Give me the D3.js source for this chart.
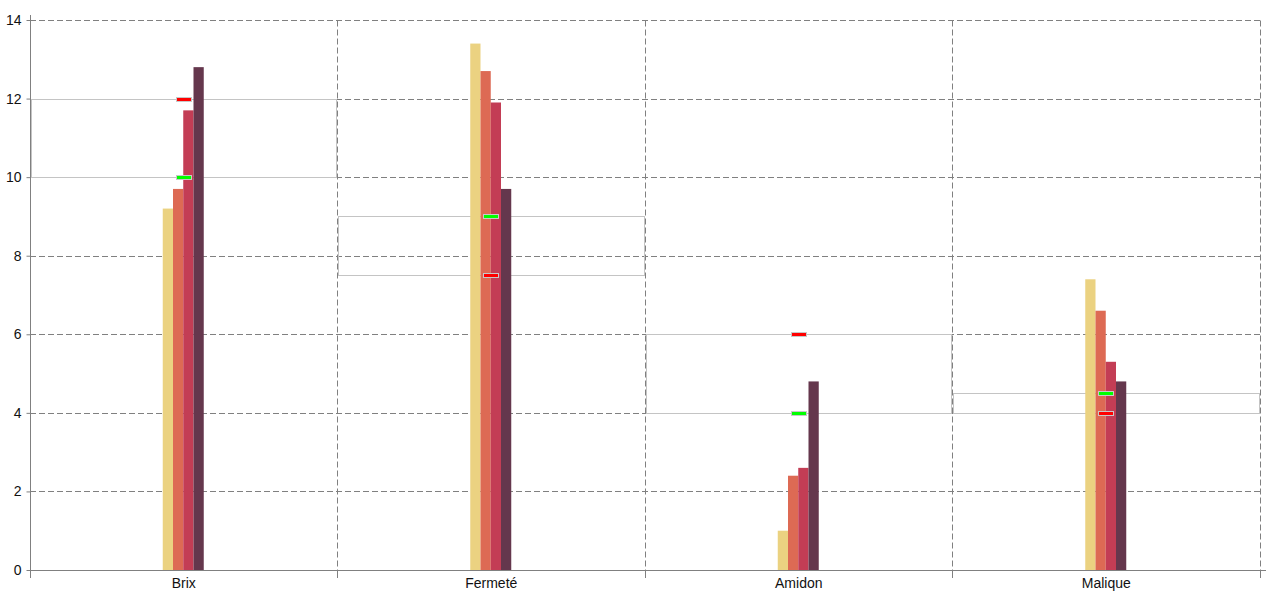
<!DOCTYPE html>
<html>
<head>
<meta charset="utf-8">
<script src="https://cdn.jsdelivr.net/npm/d3@7"></script>
<style>
  body { margin: 0; background: #fff; }
  text { font-family: "Liberation Sans", Arial, sans-serif; }
</style>
</head>
<body>
<div id="container"></div>
<script>
// categories and values
const categories = ['Brix', 'Fermeté', 'Amidon', 'Malique']
const series = ['s1', 's2', 's3', 's4']
const s1Values = [9.2, 13.4, 1.0, 7.4]
const s2Values = [9.7, 12.7, 2.4, 6.6]
const s3Values = [11.7, 11.9, 2.6, 5.3]
const s4Values = [12.8, 9.7, 4.8, 4.8]
const greenValues = [10, 9, 4, 4.5]
const redValues = [12, 7.5, 6, 4]
const yTicks = [0, 2, 4, 6, 8, 10, 12, 14]

const colors = ['#ebd281', '#dd6a54', '#c33d55', '#65374d']

const width = 1280
const height = 600
const margin = { top: 20, right: 20, bottom: 30, left: 30 }

const svg = d3.select('#container')
  .append('svg')
  .attr('width', width)
  .attr('height', height)

const x = d3.scaleBand()
  .domain(categories)
  .range([margin.left, width - margin.right])
  .padding(0)

const y = d3.scaleLinear()
  .domain([0, 14])
  .range([height - margin.bottom, margin.top])

// snapped pixel positions for crisp 1px lines
const py = v => Math.round(y(v)) + 0.5
const px = v => Math.floor(v) + 0.5

const inner = d3.scaleBand()
  .domain(series)
  .range([-21, 20])

const bottom = y(0)
const right = x.range()[1]
const bandEnd = d => x(d) + x.bandwidth()

// grid
const grid = svg.append('g')
  .style('stroke', '#808080')
  .style('stroke-dasharray', '6,3')

grid.selectAll('.hgrid')
  .data(yTicks.filter(d => d > 0))
  .enter().append('line')
  .attr('x1', margin.left).attr('x2', right)
  .attr('y1', d => py(d)).attr('y2', d => py(d))

grid.selectAll('.vgrid')
  .data(categories)
  .enter().append('line')
  .attr('x1', d => px(bandEnd(d))).attr('x2', d => px(bandEnd(d)))
  .attr('y1', py(14)).attr('y2', bottom)

// min/max bands per category
svg.append('g').selectAll('rect')
  .data(categories)
  .enter().append('rect')
  .attr('x', d => px(x(d)) + 1)
  .attr('width', d => Math.floor(bandEnd(d)) - Math.floor(x(d)) - 2)
  .attr('y', (d, i) => py(Math.max(greenValues[i], redValues[i])))
  .attr('height', (d, i) => Math.abs(py(greenValues[i]) - py(redValues[i])))
  .style('fill', 'none')
  .style('stroke', '#c4c4c4')
  .style('stroke-width', 1)

// bars
const allValues = [s1Values, s2Values, s3Values, s4Values]
series.forEach((s, j) => {
  svg.append('g').selectAll('rect')
    .data(categories)
    .enter().append('rect')
    .attr('x', d => x(d) + x.bandwidth() / 2 + inner(s))
    .attr('width', inner.bandwidth())
    .attr('y', (d, i) => y(allValues[j][i]))
    .attr('height', (d, i) => bottom - y(allValues[j][i]))
    .style('fill', colors[j])
})

// markers
function markers(values, color) {
  svg.append('g').selectAll('rect')
    .data(categories)
    .enter().append('rect')
    .attr('x', d => px(x(d) + x.bandwidth() / 2 - 7.5))
    .attr('width', 15)
    .attr('y', (d, i) => py(values[i]) - 2)
    .attr('height', 4)
    .style('fill', color)
    .style('stroke', '#c8c8c8')
    .style('stroke-width', 1)
}
markers(greenValues, '#00ff00')
markers(redValues, '#ff0000')

// axes
const axisColor = '#808080'
svg.append('line')
  .attr('x1', margin.left + 0.5).attr('x2', margin.left + 0.5)
  .attr('y1', 15).attr('y2', bottom + 8)
  .style('stroke', axisColor)
svg.append('line')
  .attr('x1', margin.left).attr('x2', right + 6)
  .attr('y1', bottom + 0.5).attr('y2', bottom + 0.5)
  .style('stroke', axisColor)

svg.append('g').selectAll('line')
  .data(categories)
  .enter().append('line')
  .attr('x1', d => px(bandEnd(d))).attr('x2', d => px(bandEnd(d)))
  .attr('y1', bottom).attr('y2', bottom + 8)
  .style('stroke', axisColor)

const yAxis = svg.append('g')
  .attr('transform', `translate(${margin.left + 0.5},0)`)
  .call(d3.axisLeft(y).tickValues(yTicks).tickSize(4).tickSizeOuter(0).tickPadding(5))
yAxis.select('.domain').remove()
yAxis.selectAll('line').style('stroke', axisColor)
yAxis.selectAll('text')
  .style('font-size', '14px')
  .style('fill', '#111')

svg.append('g').selectAll('text')
  .data(categories)
  .enter().append('text')
  .attr('x', d => x(d) + x.bandwidth() / 2)
  .attr('y', bottom + 18)
  .attr('text-anchor', 'middle')
  .style('font-size', '14px')
  .style('fill', '#111')
  .text(d => d)
</script>
</body>
</html>
